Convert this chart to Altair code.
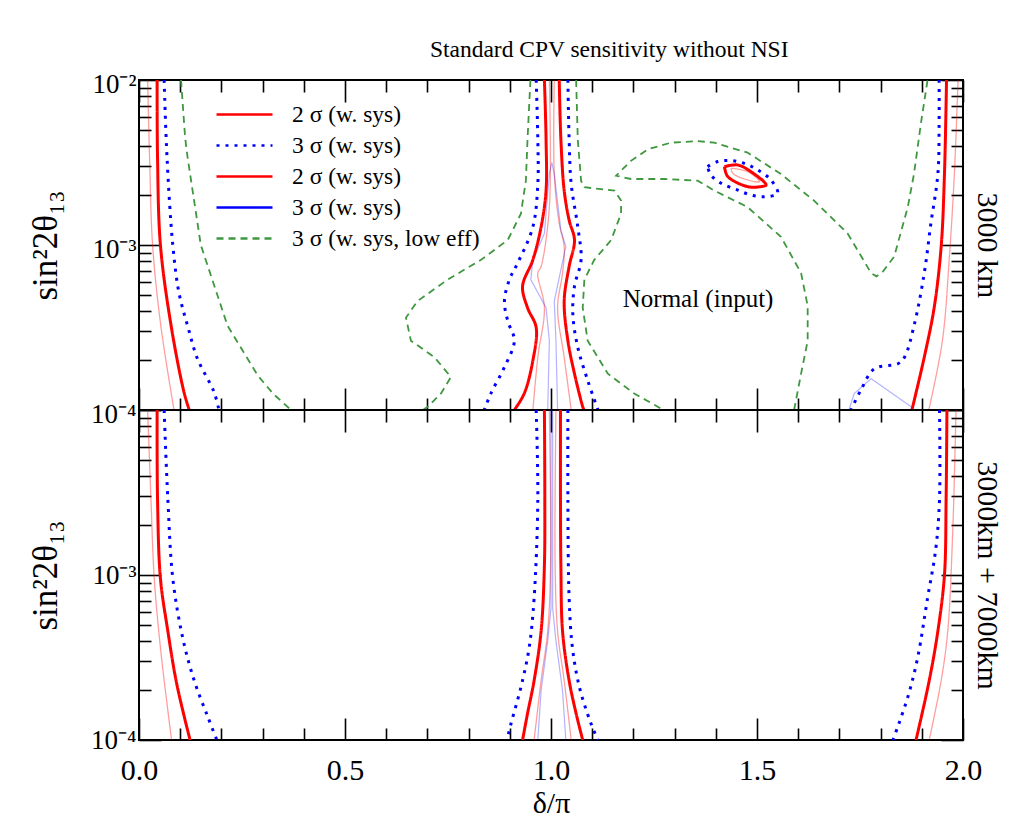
import altair as alt
import pandas as pd

FONT = "Liberation Serif"
W, H = 824, 330

# ---------------- series / legend ----------------
series_keys = ["s1", "s2", "s3", "s4", "s5"]
series_labels = ["2 σ (w. sys)", "3 σ (w. sys)", "2 σ (w. sys)", "3 σ (w. sys)", "3 σ (w. sys, low eff)"]
series_colors = ["#ff0000", "#0000ff", "#ff0000", "#0000ff", "#3f973f"]
series_dash = [[1, 0], [3, 6], [1, 0], [1, 0], [7, 5]]
series_width = {"s1": 3, "s2": 3, "s3": 1.3, "s4": 1.2, "s5": 1.8}
series_opacity = {"s1": 1, "s2": 1, "s3": 0.38, "s4": 0.3, "s5": 1}

# ---------------- axis tick values ----------------
x_major = [0.0, 0.5, 1.0, 1.5, 2.0]
x_minor = [0.1, 0.2, 0.3, 0.4, 0.6, 0.7, 0.8, 0.9, 1.1, 1.2, 1.3, 1.4, 1.6, 1.7, 1.8, 1.9]
y_major = [1e-4, 1e-3, 1e-2]
y_minor = [2e-4, 3e-4, 4e-4, 5e-4, 6e-4, 7e-4, 8e-4, 9e-4,
           2e-3, 3e-3, 4e-3, 5e-3, 6e-3, 7e-3, 8e-3, 9e-3]

# ---------------- top panel (3000 km) : x = delta/pi, lgy = log10(sin^2 2theta13) ----------------
top_green_left_x = [0.102, 0.112, 0.118, 0.150, 0.215, 0.288, 0.325, 0.369]
top_green_left_lgy = [-2.00, -2.35, -2.47, -3.00, -3.49, -3.79, -3.90, -4.00]
top_green_cl_x = [0.950, 0.943, 0.939, 0.927, 0.895, 0.830, 0.749, 0.676, 0.648, 0.660, 0.717, 0.757, 0.733, 0.701, 0.689]
top_green_cl_lgy = [-2.00, -2.36, -2.61, -2.81, -2.97, -3.09, -3.21, -3.34, -3.44, -3.58, -3.68, -3.80, -3.90, -3.98, -4.00]
top_green_cr_x = [1.061, 1.065, 1.073, 1.081, 1.154, 1.170, 1.170, 1.146, 1.105, 1.081, 1.077, 1.089, 1.138, 1.202, 1.259, 1.272]
top_green_cr_lgy = [-2.00, -2.36, -2.61, -2.65, -2.67, -2.73, -2.81, -2.97, -3.09, -3.21, -3.38, -3.58, -3.78, -3.90, -3.98, -4.00]
top_green_arc_x = [1.590, 1.607, 1.623, 1.623, 1.607, 1.558, 1.477, 1.396, 1.356, 1.275, 1.194, 1.158,
                   1.194, 1.235, 1.291, 1.356, 1.396, 1.477, 1.558, 1.638, 1.720, 1.777, 1.790, 1.806,
                   1.833, 1.866, 1.881, 1.898, 1.914]
top_green_arc_lgy = [-4.00, -3.78, -3.58, -3.37, -3.17, -2.95, -2.77, -2.67, -2.61, -2.60, -2.60, -2.58,
                     -2.49, -2.42, -2.38, -2.37, -2.38, -2.44, -2.57, -2.73, -2.93, -3.17, -3.19, -3.16,
                     -3.07, -2.77, -2.57, -2.26, -2.00]

top_red_left_x = [0.044, 0.045, 0.052, 0.078, 0.109, 0.122]
top_red_left_lgy = [-2.00, -2.47, -3.00, -3.49, -3.89, -4.00]
top_pred_left_x = [0.021, 0.026, 0.033, 0.053, 0.085]
top_pred_left_lgy = [-2.00, -2.50, -3.00, -3.49, -4.00]
top_blue_left_x = [0.061, 0.068, 0.082, 0.097, 0.118, 0.142, 0.182, 0.194]
top_blue_left_lgy = [-2.00, -2.47, -3.00, -3.29, -3.49, -3.69, -3.89, -4.00]

top_red_cl_x = [0.984, 0.988, 0.988, 0.976, 0.956, 0.931, 0.943, 0.964, 0.956, 0.935, 0.911]
top_red_cl_lgy = [-2.00, -2.36, -2.67, -2.89, -3.09, -3.25, -3.38, -3.50, -3.70, -3.90, -4.00]
top_red_cr_x = [1.020, 1.024, 1.032, 1.044, 1.057, 1.044, 1.032, 1.041, 1.057, 1.077, 1.080]
top_red_cr_lgy = [-2.00, -2.36, -2.67, -2.85, -2.97, -3.13, -3.34, -3.58, -3.78, -3.98, -4.00]
top_blue_cl_x = [0.964, 0.968, 0.968, 0.956, 0.919, 0.899, 0.887, 0.895, 0.911, 0.887, 0.854, 0.838]
top_blue_cl_lgy = [-2.00, -2.36, -2.63, -2.89, -3.11, -3.21, -3.34, -3.46, -3.58, -3.74, -3.90, -4.00]
top_blue_cr_x = [1.041, 1.044, 1.049, 1.065, 1.073, 1.057, 1.053, 1.065, 1.089, 1.114]
top_blue_cr_lgy = [-2.00, -2.36, -2.63, -2.89, -3.09, -3.25, -3.42, -3.62, -3.82, -4.00]
top_pred_cl_x = [0.996, 0.996, 0.976, 0.968, 0.984, 0.968, 0.956]
top_pred_cl_lgy = [-2.00, -2.77, -3.13, -3.17, -3.38, -3.68, -4.00]
top_pred_cr_x = [1.008, 1.008, 1.020, 1.032, 1.028, 1.016, 1.032, 1.049]
top_pred_cr_lgy = [-2.00, -2.57, -2.87, -3.01, -3.17, -3.38, -3.68, -4.00]
top_pblue_c_x = [0.992, 0.996, 0.988, 0.951, 0.956, 0.984, 0.996, 1.002, 1.008, 1.024, 1.036, 1.024, 1.008, 1.012, 1.016]
top_pblue_c_lgy = [-4.00, -3.58, -3.38, -3.21, -3.09, -2.93, -2.57, -2.50, -2.57, -2.91, -3.01, -3.15, -3.34, -3.58, -4.00]

top_red_ell_x = [1.421, 1.453, 1.485, 1.522, 1.510, 1.477, 1.429, 1.421]
top_red_ell_lgy = [-2.525, -2.515, -2.555, -2.636, -2.646, -2.646, -2.585, -2.525]
top_pred_ell_x = [1.437, 1.477, 1.506, 1.477, 1.441, 1.437]
top_pred_ell_lgy = [-2.535, -2.555, -2.616, -2.606, -2.565, -2.535]
top_blue_ell_x = [1.380, 1.405, 1.437, 1.469, 1.502, 1.534, 1.550, 1.518, 1.485, 1.453, 1.413, 1.388, 1.380]
top_blue_ell_lgy = [-2.525, -2.494, -2.488, -2.505, -2.545, -2.606, -2.687, -2.707, -2.697, -2.667, -2.626, -2.576, -2.525]

top_red_right_x = [1.960, 1.955, 1.947, 1.930, 1.906, 1.876]
top_red_right_lgy = [-2.00, -2.57, -3.01, -3.38, -3.68, -4.00]
top_pred_right_x = [1.988, 1.979, 1.967, 1.950, 1.917]
top_pred_right_lgy = [-2.00, -2.57, -3.07, -3.58, -4.00]
top_blue_right_x = [1.942, 1.942, 1.939, 1.922, 1.906, 1.882, 1.858, 1.842, 1.785, 1.752, 1.728]
top_blue_right_lgy = [-2.00, -2.26, -2.57, -2.87, -3.17, -3.48, -3.68, -3.72, -3.75, -3.88, -4.00]
top_pblue_right_x = [1.723, 1.736, 1.777, 1.874, 1.881]
top_pblue_right_lgy = [-4.00, -3.90, -3.81, -3.98, -4.00]

# ---------------- bottom panel (3000km + 7000km) ----------------
bot_red_left_x = [0.044, 0.045, 0.052, 0.070, 0.090, 0.110, 0.124]
bot_red_left_lgy = [-2.00, -2.54, -3.02, -3.34, -3.64, -3.86, -4.00]
bot_pred_left_x = [0.021, 0.029, 0.037, 0.052, 0.066, 0.079]
bot_pred_left_lgy = [-2.00, -2.54, -3.02, -3.44, -3.74, -4.00]
bot_blue_left_x = [0.061, 0.070, 0.082, 0.106, 0.134, 0.167, 0.189]
bot_blue_left_lgy = [-2.00, -2.54, -3.02, -3.38, -3.64, -3.86, -4.00]

bot_red_cl_x = [0.984, 0.985, 0.984, 0.976, 0.959, 0.943, 0.931]
bot_red_cl_lgy = [-2.00, -2.54, -2.94, -3.34, -3.64, -3.84, -4.00]
bot_red_cr_x = [1.023, 1.023, 1.024, 1.028, 1.044, 1.061, 1.077]
bot_red_cr_lgy = [-2.00, -2.54, -2.94, -3.34, -3.64, -3.84, -4.00]
bot_pred_cl_x = [0.996, 0.999, 0.992, 0.976, 0.959]
bot_pred_cl_lgy = [-2.00, -2.94, -3.34, -3.64, -4.00]
bot_pred_cr_x = [1.012, 1.010, 1.016, 1.032, 1.049]
bot_pred_cr_lgy = [-2.00, -2.94, -3.34, -3.64, -4.00]
bot_blue_cl_x = [0.964, 0.968, 0.959, 0.947, 0.927, 0.903, 0.893]
bot_blue_cl_lgy = [-2.00, -2.54, -3.14, -3.44, -3.68, -3.90, -4.00]
bot_blue_cr_x = [1.041, 1.041, 1.044, 1.052, 1.069, 1.097, 1.114]
bot_blue_cr_lgy = [-2.00, -2.54, -3.14, -3.44, -3.68, -3.90, -4.00]
bot_pblue_cl_x = [1.000, 1.000, 0.992, 0.976, 0.968]
bot_pblue_cl_lgy = [-2.00, -3.20, -3.40, -3.70, -4.00]
bot_pblue_cr_x = [1.004, 1.004, 1.012, 1.028, 1.036]
bot_pblue_cr_lgy = [-2.00, -3.20, -3.40, -3.70, -4.00]

bot_red_right_x = [1.961, 1.959, 1.955, 1.939, 1.918, 1.886]
bot_red_right_lgy = [-2.00, -2.54, -3.00, -3.34, -3.64, -4.00]
bot_pred_right_x = [1.983, 1.975, 1.963, 1.947, 1.918]
bot_pred_right_lgy = [-2.00, -2.74, -3.34, -3.64, -4.00]
bot_blue_right_x = [1.943, 1.943, 1.934, 1.914, 1.890, 1.866, 1.830]
bot_blue_right_lgy = [-2.00, -2.54, -2.84, -3.14, -3.50, -3.74, -4.00]

# annotation
note_text = ["Normal (input)"]
note_x = [1.357]
note_y = [4.7e-4]

top_curves = [
    ("s5", "g_left", top_green_left_x, top_green_left_lgy),
    ("s5", "g_cl", top_green_cl_x, top_green_cl_lgy),
    ("s5", "g_cr", top_green_cr_x, top_green_cr_lgy),
    ("s5", "g_arc", top_green_arc_x, top_green_arc_lgy),
    ("s2", "b_left", top_blue_left_x, top_blue_left_lgy),
    ("s2", "b_cl", top_blue_cl_x, top_blue_cl_lgy),
    ("s2", "b_cr", top_blue_cr_x, top_blue_cr_lgy),
    ("s2", "b_ell", top_blue_ell_x, top_blue_ell_lgy),
    ("s2", "b_right", top_blue_right_x, top_blue_right_lgy),
    ("s3", "p_left", top_pred_left_x, top_pred_left_lgy),
    ("s3", "p_cl", top_pred_cl_x, top_pred_cl_lgy),
    ("s3", "p_cr", top_pred_cr_x, top_pred_cr_lgy),
    ("s3", "p_ell", top_pred_ell_x, top_pred_ell_lgy),
    ("s3", "p_right", top_pred_right_x, top_pred_right_lgy),
    ("s4", "q_c", top_pblue_c_x, top_pblue_c_lgy),
    ("s4", "q_right", top_pblue_right_x, top_pblue_right_lgy),
    ("s1", "r_left", top_red_left_x, top_red_left_lgy),
    ("s1", "r_cl", top_red_cl_x, top_red_cl_lgy),
    ("s1", "r_cr", top_red_cr_x, top_red_cr_lgy),
    ("s1", "r_ell", top_red_ell_x, top_red_ell_lgy),
    ("s1", "r_right", top_red_right_x, top_red_right_lgy),
]
bot_curves = [
    ("s2", "b_left", bot_blue_left_x, bot_blue_left_lgy),
    ("s2", "b_cl", bot_blue_cl_x, bot_blue_cl_lgy),
    ("s2", "b_cr", bot_blue_cr_x, bot_blue_cr_lgy),
    ("s2", "b_right", bot_blue_right_x, bot_blue_right_lgy),
    ("s3", "p_left", bot_pred_left_x, bot_pred_left_lgy),
    ("s3", "p_cl", bot_pred_cl_x, bot_pred_cl_lgy),
    ("s3", "p_cr", bot_pred_cr_x, bot_pred_cr_lgy),
    ("s3", "p_right", bot_pred_right_x, bot_pred_right_lgy),
    ("s4", "q_cl", bot_pblue_cl_x, bot_pblue_cl_lgy),
    ("s4", "q_cr", bot_pblue_cr_x, bot_pblue_cr_lgy),
    ("s1", "r_left", bot_red_left_x, bot_red_left_lgy),
    ("s1", "r_cl", bot_red_cl_x, bot_red_cl_lgy),
    ("s1", "r_cr", bot_red_cr_x, bot_red_cr_lgy),
    ("s1", "r_right", bot_red_right_x, bot_red_right_lgy),
]


def build(curves):
    rows = []
    for s, name, xs_, lgy in curves:
        for i, (xv, lv) in enumerate(zip(xs_, lgy)):
            rows.append({"x": xv, "y": 10 ** lv, "series": s, "curve": s + name, "ord": i})
    return pd.DataFrame(rows)


df_top = build(top_curves)
df_bot = build(bot_curves)

xs = alt.Scale(domain=[0, 2], nice=False, zero=False)
ys = alt.Scale(type="log", domain=[1e-4, 1e-2], nice=False)

label_expr = " : ".join(
    [f"datum.value == '{k}' ? '{l}'" for k, l in zip(series_keys, series_labels)]
) + " : ''"

legend = alt.Legend(
    title=None, orient="none", legendX=90, legendY=19, direction="vertical",
    symbolType="M-2,0H2", symbolSize=784, symbolStrokeWidth=2.5,
    labelFont=FONT, labelFontSize=23.5, labelColor="black", labelExpr=label_expr,
    labelLimit=0, rowPadding=4, labelOffset=32, padding=0, symbolOffset=0,
)


def line_layer(df, series, show_legend, interp):
    leg = legend if show_legend else None
    return alt.Chart(df[df["series"] == series]).mark_line(
        interpolate=interp, strokeCap="butt",
        strokeWidth=series_width[series], opacity=series_opacity[series],
    ).encode(
        x=alt.X("x:Q", scale=xs, axis=None),
        y=alt.Y("y:Q", scale=ys, axis=None),
        color=alt.Color("series:N", scale=alt.Scale(domain=series_keys, range=series_colors), legend=leg),
        strokeDash=alt.StrokeDash("series:N", scale=alt.Scale(domain=series_keys, range=series_dash), legend=leg),
        detail="curve:N",
        order="ord:Q",
    )


def tick_axis(orient, values, length, **kw):
    base = dict(orient=orient, values=values, offset=-length, tickSize=length, labels=False,
                domain=False, grid=False, tickColor="black", tickWidth=1.6, title=None)
    base.update(kw)
    return alt.Axis(**base)


def axis_layer(df, xaxis, yaxis):
    return alt.Chart(df).mark_point(opacity=0).encode(
        x=alt.X("x:Q", scale=xs, axis=xaxis),
        y=alt.Y("y:Q", scale=ys, axis=yaxis),
    )


ytitle = "sin²2θ₁₃"


def panel(df, curves_df, is_top):
    if is_top:
        ylab = "datum.value < 0.0002 ? '10⁻⁴' : datum.value < 0.002 ? '10⁻³' : '10⁻²'"
        right_title = "3000 km"
        yoff = 4
    else:
        ylab = "datum.value < 0.0002 ? '10⁻⁴' : datum.value < 0.002 ? '10⁻³' : ''"
        right_title = "3000km + 7000km"
        yoff = 0
    y_left_major = tick_axis(
        "left", y_major, 22, labels=True, labelExpr=ylab, labelFont=FONT, labelFontSize=27,
        labelColor="black", labelPadding=3, labelOverlap=False, labelBound=False, labelOffset=yoff,
        title=ytitle, titleFont=FONT, titleFontSize=35, titleFontWeight="normal",
        titleColor="black", titlePadding=27,
    )
    y_right_major = tick_axis(
        "right", y_major, 22, title=right_title, titleFont=FONT, titleFontSize=30,
        titleFontWeight="normal", titleColor="black", titleAngle=90, titlePadding=8,
    )
    if is_top:
        x_bottom_major = tick_axis("bottom", x_major, 22)
    else:
        x_bottom_major = tick_axis(
            "bottom", x_major, 22, labels=True, format=".1f", labelFont=FONT, labelFontSize=30,
            labelColor="black", labelPadding=15, labelFlush=False, labelOverlap=False,
            title="δ/π", titleFont=FONT, titleFontSize=30, titleFontWeight="normal",
            titleColor="black", titlePadding=3,
        )
    layers = [
        axis_layer(df, tick_axis("bottom", x_minor, 12), tick_axis("left", y_minor, 12)),
        axis_layer(df, x_bottom_major, y_left_major),
        axis_layer(df, tick_axis("top", x_minor, 12), tick_axis("right", y_minor, 12)),
        axis_layer(df, tick_axis("top", x_major, 22), y_right_major),
    ]
    for s, interp in [("s5", "linear"), ("s2", "catmull-rom"), ("s3", "catmull-rom"),
                      ("s4", "linear"), ("s1", "catmull-rom")]:
        if (curves_df["series"] == s).any():
            layers.append(line_layer(curves_df, s, is_top, interp))
    if is_top:
        notes = pd.DataFrame({"x": note_x, "y": note_y, "t": note_text})
        layers.append(
            alt.Chart(notes).mark_text(font=FONT, fontSize=25, color="black").encode(
                x=alt.X("x:Q", scale=xs, axis=None),
                y=alt.Y("y:Q", scale=ys, axis=None),
                text="t:N",
            )
        )
    return alt.layer(*layers).resolve_axis(x="independent", y="independent").properties(width=W, height=H)


top = panel(df_top, df_top, True)
bot = panel(df_bot, df_bot, False)

chart = (
    alt.vconcat(top, bot, spacing=0, bounds="flush")
    .resolve_scale(color="independent", strokeDash="independent")
    .properties(
        title=alt.TitleParams(
            "Standard CPV sensitivity without NSI", font=FONT, fontSize=23.5,
            fontWeight="normal", color="black", anchor="middle", dx=94, offset=8,
        ),
        padding={"left": 19, "top": 29, "right": 10, "bottom": 2},
        background="white",
    )
    .configure_view(stroke="black", strokeWidth=2)
)

chart.save("out.html", embed_options={"renderer": "svg", "actions": False})
